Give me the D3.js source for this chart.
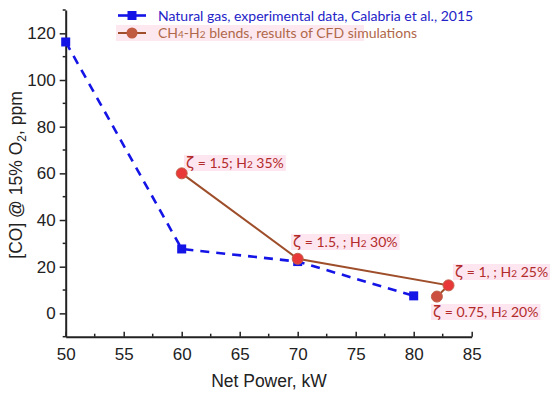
<!DOCTYPE html>
<html><head><meta charset="utf-8">
<script src="https://cdn.jsdelivr.net/npm/d3@7"></script>
<style>body{margin:0;background:#fff}svg{display:block}</style>
</head><body>
<svg id="c" width="550" height="396"></svg>
<script>
const gasX = [50, 60, 70, 80];
const gasY = [116.3, 27.6, 22.2, 7.5];
const blendX = [60, 70, 83, 82];
const blendY = [60, 23.4, 12, 7.2];
const blendLabels = [
  {zeta:"1.5; ", h2:"35%"},
  {zeta:"1.5, ; ", h2:"30%"},
  {zeta:"1, ; ", h2:"25%"},
  {zeta:"0.75,", h2:"20%"}
];
const xTicks = [50, 55, 60, 65, 70, 75, 80, 85];
const yTicks = [0, 20, 40, 60, 80, 100, 120];
const legendLabels = ["Natural gas, experimental data, Calabria et al., 2015", "CH4-H2 blends, results of CFD simulations"];

const svg = d3.select("#c");
const x = d3.scaleLinear().domain([50, 85]).range([65.7, 471.7]);
const y = d3.scaleLinear().domain([-10, 130]).range([336.7, 10]);

const tickFont = "Liberation Sans, Arial, sans-serif";
// axes
const xAxis = d3.axisBottom(x).tickValues(xTicks).tickSizeInner(-5).tickSizeOuter(0).tickPadding(11).tickFormat(d3.format("d"));
const gx = svg.append("g").attr("transform", `translate(0,${y(-10)})`).call(xAxis);
gx.select(".domain").attr("stroke", "#222").attr("stroke-width", 2);
gx.selectAll(".tick line").attr("stroke", "#222").attr("stroke-width", 1.5);
gx.selectAll("text").attr("font-family", tickFont).attr("font-size", 17).attr("fill", "#222");
// minor x ticks
svg.append("g").selectAll("line").data(d3.range(52.5, 85, 5)).join("line")
  .attr("x1", d => x(d)).attr("x2", d => x(d)).attr("y1", y(-10)).attr("y2", y(-10) - 3)
  .attr("stroke", "#222").attr("stroke-width", 1.5);

const yAxis = d3.axisLeft(y).tickValues(yTicks).tickSizeInner(6).tickSizeOuter(0).tickPadding(4).tickFormat(d3.format("d"));
const gy = svg.append("g").attr("transform", `translate(${x(50)},0)`).call(yAxis);
gy.select(".domain").attr("stroke", "#222").attr("stroke-width", 2);
gy.selectAll(".tick line").attr("stroke", "#222").attr("stroke-width", 1.5);
gy.selectAll("text").attr("font-family", tickFont).attr("font-size", 17).attr("fill", "#222");
svg.append("g").selectAll("line").data(d3.range(-10, 131, 20)).join("line")
  .attr("x1", x(50)).attr("x2", x(50) - 3).attr("y1", d => y(d)).attr("y2", d => y(d))
  .attr("stroke", "#222").attr("stroke-width", 1.5);

// axis titles
svg.append("text").attr("x", 269).attr("y", 387).attr("text-anchor", "middle")
  .attr("font-family", tickFont).attr("font-size", 17.5).attr("fill", "#222").text("Net Power, kW");
const yl = svg.append("text").attr("transform", "translate(22,175) rotate(-90)").attr("text-anchor", "middle")
  .attr("font-family", tickFont).attr("font-size", 17.5).attr("fill", "#222");
yl.append("tspan").text("[CO] @ 15% O");
yl.append("tspan").attr("font-size", 12).attr("dy", 4).text("2");
yl.append("tspan").attr("dy", -4).text(", ppm");

const blue = "#1414e6", lineBrown = "#9e4e2a", red = "#b32a2a";
const lbl = "Lato, 'Open Sans', sans-serif";

// gas series
const gasData = gasX.map((v, i) => [v, gasY[i]]);
svg.append("path").datum(gasData).attr("fill", "none").attr("stroke", blue).attr("stroke-width", 2.6)
  .attr("stroke-dasharray", "9,7").attr("d", d3.line().x(d => x(d[0])).y(d => y(d[1])));
svg.append("g").selectAll("rect").data(gasData).join("rect")
  .attr("x", d => x(d[0]) - 4.5).attr("y", d => y(d[1]) - 4.5).attr("width", 9).attr("height", 9).attr("fill", blue);

// blend labels
const lg = svg.append("g");
const labelPos = [[186, 168], [293, 247], [455, 277], [433, 317]];
blendLabels.forEach((b, i) => {
  const [lx, ly] = labelPos[i];
  const g = lg.append("g");
  const t = g.append("text").attr("x", lx).attr("y", ly).attr("font-family", lbl).attr("font-size", 14).attr("fill", red);
  t.append("tspan").attr("font-family", "'DejaVu Sans', sans-serif").attr("font-size", 15).text("ζ");
  t.append("tspan").text(" = " + b.zeta + " H");
  t.append("tspan").attr("font-size", 10).text("2");
  t.append("tspan").text(" " + b.h2);
  const bb = t.node().getBBox();
  g.insert("rect", "text").attr("x", bb.x - 2).attr("y", bb.y + 1).attr("width", bb.width + 4).attr("height", bb.height - 2)
    .attr("fill", "#fde6f0");
});

// blend series
const blendData = blendX.map((v, i) => [v, blendY[i]]);
svg.append("path").datum(blendData).attr("fill", "none").attr("stroke", lineBrown).attr("stroke-width", 2)
  .attr("d", d3.line().x(d => x(d[0])).y(d => y(d[1])));
svg.append("g").selectAll("circle").data(blendData).join("circle")
  .attr("cx", d => x(d[0])).attr("cy", d => y(d[1])).attr("r", 5.5)
  .attr("fill", (d, i) => i === 3 ? "#cc5040" : "#e83838").attr("stroke", "#c0604a").attr("stroke-width", 1);

// legend
const lgd = svg.append("g");
lgd.append("line").attr("x1", 118).attr("x2", 146).attr("y1", 15.5).attr("y2", 15.5).attr("stroke", blue).attr("stroke-width", 2.6);
lgd.append("rect").attr("x", 127.5).attr("y", 11).attr("width", 9).attr("height", 9).attr("fill", blue);
lgd.append("rect").attr("x", 116).attr("y", 25).attr("width", 248).attr("height", 16).attr("fill", "#fde8f0");
lgd.append("line").attr("x1", 118).attr("x2", 146).attr("y1", 33).attr("y2", 33).attr("stroke", lineBrown).attr("stroke-width", 2);
lgd.append("circle").attr("cx", 132).attr("cy", 33).attr("r", 5.5).attr("fill", "#c05a40");
lgd.append("text").attr("x", 158).attr("y", 20.5).attr("font-family", lbl).attr("font-size", 14).attr("fill", "#2323c8")
  .text(legendLabels[0]);
const l2 = lgd.append("text").attr("x", 158).attr("y", 38).attr("font-family", lbl).attr("font-size", 14).attr("fill", "#b0684a");
l2.append("tspan").text("CH");
l2.append("tspan").attr("font-size", 10).text("4");
l2.append("tspan").text("-H");
l2.append("tspan").attr("font-size", 10).text("2");
l2.append("tspan").text(" blends, results of CFD simulations");
</script>
</body></html>
